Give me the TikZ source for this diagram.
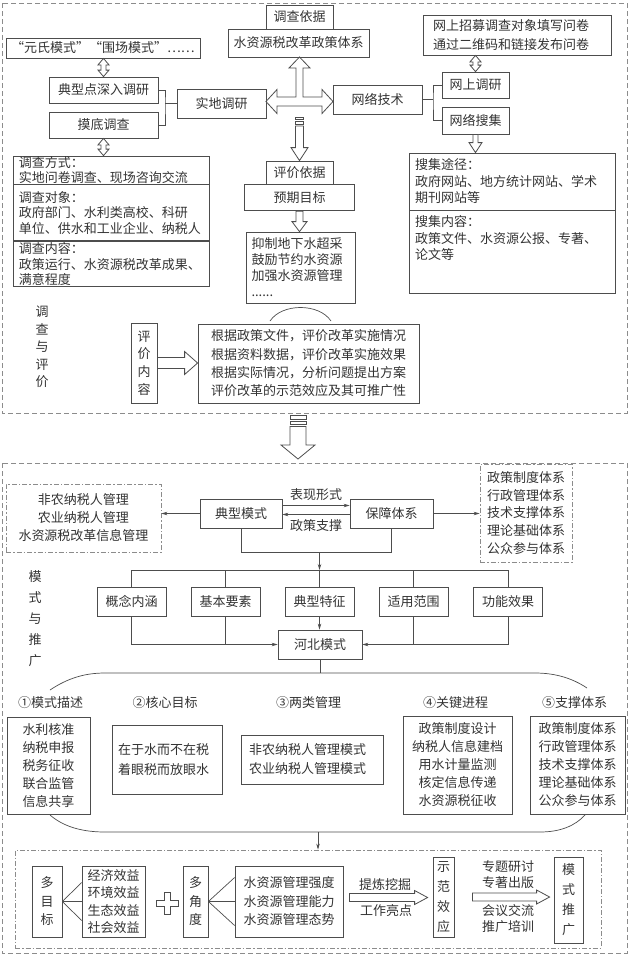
\documentclass[tikz,border=0pt]{standalone}
\usepackage{fontspec}
\setmainfont{Noto Sans CJK SC}
\usetikzlibrary{calc, positioning, arrows.meta}

\definecolor{linegray}{HTML}{4D4D4D}
\definecolor{textgray}{HTML}{333333}
\definecolor{dashgray}{HTML}{8C8C8C}

% hollow block arrows: tail, tip, shaft half width, head half width, head length
\newcommand{\blockdown}[5]{%
  \draw[blockarr] let \p1=#1, \p2=#2 in
    (\x1-#3pt,\y1) -- (\x1-#3pt,\y2+#5pt) -- (\x1-#4pt,\y2+#5pt) -- (\x1,\y2)
    -- (\x1+#4pt,\y2+#5pt) -- (\x1+#3pt,\y2+#5pt) -- (\x1+#3pt,\y1) -- cycle;}
\newcommand{\blockupdown}[5]{%
  \draw[blockarr] let \p1=#1, \p2=#2 in
    (\x1,\y1) -- (\x1+#4pt,\y1-#5pt) -- (\x1+#3pt,\y1-#5pt) -- (\x1+#3pt,\y2+#5pt)
    -- (\x1+#4pt,\y2+#5pt) -- (\x1,\y2) -- (\x1-#4pt,\y2+#5pt) -- (\x1-#3pt,\y2+#5pt)
    -- (\x1-#3pt,\y1-#5pt) -- (\x1-#4pt,\y1-#5pt) -- cycle;}
\newcommand{\blockright}[5]{%
  \draw[blockarr] let \p1=#1, \p2=#2 in
    (\x1,\y1+#3pt) -- (\x2-#5pt,\y1+#3pt) -- (\x2-#5pt,\y1+#4pt) -- (\x2,\y1)
    -- (\x2-#5pt,\y1-#4pt) -- (\x2-#5pt,\y1-#3pt) -- (\x1,\y1-#3pt) -- cycle;}

\begin{document}
\begin{tikzpicture}[x=1pt, y=-1pt,
  font=\fontsize{13}{15.5}\selectfont, text=textgray,
  box/.style={draw=linegray, line width=0.8pt, inner sep=0pt},
  vtext/.style={box, align=center},
  secframe/.style={draw=dashgray, line width=0.8pt, dash pattern=on 5pt off 3pt},
  dashdotbox/.style={draw=dashgray, line width=0.8pt, dash pattern=on 5pt off 2pt on 1.5pt off 2pt},
  link/.style={draw=linegray, line width=0.7pt},
  arr/.style={link, -{Stealth[length=6pt, width=3.5pt]}},
  blockarr/.style={draw=linegray, line width=0.8pt, fill=white}]
\useasboundingbox (0,0) rectangle (631,956);

% Survey and evaluation
\draw[secframe] (2,3) rectangle (627,413);

\node[box, minimum width=67, minimum height=24] (yj) at (299.5,17) {调查依据};
\node[box, minimum width=141, minimum height=28] (zc) at (298.5,43) {水资源税改革政策体系};
\node[box, minimum width=194, minimum height=20] (ys) at (103,48) {“元氏模式”“围场模式”……};
\node[box, minimum width=109, minimum height=26] (dx) at (103.5,90) {典型点深入调研};
\node[box, minimum width=109, minimum height=26] (md) at (103.5,125) {摸底调查};
\node[box, minimum width=89, minimum height=29] (sd) at (221.5,103.5) {实地调研};
\node[box, minimum width=89, minimum height=29] (wl) at (377.5,99.5) {网络技术};
\node[box, minimum width=67, minimum height=26] (ws) at (475.5,85) {网上调研};
\node[box, minimum width=67, minimum height=27] (wj) at (475.5,120.5) {网络搜集};
\node[box, minimum width=188, minimum height=40, align=left, text width=168, inner xsep=10pt,
  font=\fontsize{13}{19}\selectfont] (zm) at (517,35) {网上招募调查对象填写问卷\\通过二维码和链接发布问卷};

% survey details
\node[box, minimum width=196, minimum height=28, align=left, text width=184, inner xsep=6pt] (fs1) at (111,170)
  {调查方式：\\实地问卷调查、现场咨询交流};
\node[box, minimum width=196, minimum height=56, align=left, text width=184, inner xsep=6pt, below=0pt of fs1] (fs2)
  {调查对象：\\政府部门、水利类高校、科研\\单位、供水和工业企业、纳税人};
\node[box, minimum width=196, minimum height=45, align=left, text width=184, inner xsep=6pt, below=0pt of fs2] (fs3)
  {调查内容：\\政策运行、水资源税改革成果、\\满意程度};

% collection details
\node[box, minimum width=206, minimum height=57, align=left, text width=194, inner xsep=6pt,
  font=\fontsize{13}{16.5}\selectfont] (sj1) at (512,181.5) {搜集途径：\\政府网站、地方统计网站、学术\\期刊网站等};
\node[box, minimum width=206, minimum height=83, align=left, text width=194, inner xsep=6pt,
  font=\fontsize{13}{16.5}\selectfont, below=0pt of sj1] (sj2) {搜集内容：\\政策文件、水资源公报、专著、\\论文等\\[13pt]\mbox{}};

% evaluation
\node[box, minimum width=67, minimum height=23] (pj) at (299.5,172.5) {评价依据};
\node[box, minimum width=110, minimum height=26, below=0pt of pj] (yq) {预期目标};
\node[box, minimum width=109, minimum height=71, align=left, text width=99, inner xsep=5pt,
  font=\fontsize{13}{16}\selectfont] (yz) at (301,267.5) {抑制地下水超采\\鼓励节约水资源\\加强水资源管理\\......};
\node[vtext, minimum width=26, minimum height=80, font=\fontsize{13}{17.7}\selectfont] (pn) at (144,363) {评\\价\\内\\容};
\node[box, minimum width=221, minimum height=79, align=center, font=\fontsize{13}{18.3}\selectfont] (gj) at (308.5,363.5)
  {根据政策文件，评价改革实施情况\\根据资料数据，评价改革实施效果\\根据实际情况，分析问题提出方案\\评价改革的示范效应及其可推广性};
\node[align=center, font=\fontsize{13}{17.5}\selectfont] (lb1) at (42,347) {调\\查\\与\\评\\价};
\draw[link] (270,321) .. controls (282,303) and (319,303) .. (331,321);

% brackets
\coordinate (b1) at (165,103.5);
\draw[link] (dx.east) -| (b1) |- (md.east);
\draw[link] (b1) -- (sd.west);
\coordinate (b2) at (433,99.5);
\draw[link] (ws.west) -| (b2) |- (wj.west);
\draw[link] (wl.east) -- (b2);

% block arrows
\blockupdown{(dx.north |- ys.south)}{(dx.north)}{2.5}{5.5}{6.5}
\blockupdown{(md.south)}{(md.south |- fs1.north)}{2.5}{5.5}{6.5}
\blockupdown{(ws.north |- zm.south)}{(ws.north)}{2.5}{5.5}{6.5}
\blockdown{(wj.south)}{(wj.south |- sj1.north)}{2.5}{6.5}{10}
\blockdown{(yq.south)}{(yq.south |- yz.north)}{3.5}{7.5}{10}
\blockright{(pn.east)}{(gj.west)}{5.5}{11.5}{13}
\draw[blockarr] (296,68) -- (289,68) -- (299.5,57) -- (310,68) -- (303,68) -- (303,97) -- (322,97) -- (322,89.5)
  -- (333,101.5) -- (322,113.5) -- (322,106) -- (277,106) -- (277,113.5) -- (266,101.5) -- (277,89.5) -- (277,97)
  -- (296,97) -- cycle;
\draw[blockarr] (295.5,117) rectangle (303.5,119.5);
\draw[blockarr] (295.5,121.5) rectangle (303.5,124);
\coordinate (s1) at (299.5,126);
\blockdown{(s1)}{(pj.north)}{4}{8.5}{13}

% between the two parts
\draw[blockarr] (290,415.5) rectangle (306,419);
\draw[blockarr] (290,421) rectangle (306,424.5);
\coordinate (s2) at (298,426.5);
\coordinate (s3) at (298,459);
\blockdown{(s2)}{(s3)}{8}{17}{14}

% Model and promotion
\draw[secframe] (2,463) rectangle (627,953);

\node[box, dashdotbox, minimum width=155, minimum height=68, align=center, font=\fontsize{13}{18}\selectfont] (fn) at (83.5,518)
  {非农纳税人管理\\农业纳税人管理\\水资源税改革信息管理};
\node[box, minimum width=82, minimum height=29] (dm) at (241,513.5) {典型模式};
\node[box, minimum width=83, minimum height=29] (bz) at (391.5,513.5) {保障体系};
\node[box, dashdotbox, minimum width=92, minimum height=98, align=center, font=\fontsize{13}{17.8}\selectfont] (tx) at (526,513)
  {政策制度体系\\行政管理体系\\技术支撑体系\\理论基础体系\\公众参与体系};
\draw[arr] ($(dm.east)+(0,-8)$) -- ($(bz.west)+(0,-8)$) node[midway, above=1pt] {表现形式};
\draw[arr] ($(bz.west)+(0,1)$) -- ($(dm.east)+(0,1)$) node[midway, below=1pt] {政策支撑};
\draw[arr] (dm.west) -- (dm.west -| fn.east);
\draw[arr] (bz.east) -- (bz.east -| tx.west);

\foreach \n/\x/\t in {gn/131.5/概念内涵, jb/225.5/基本要素, tz/319.5/典型特征, sy/413.5/适用范围, gx/508/功能效果}
  \node[box, minimum width=69, minimum height=29] (\n) at (\x,601.5) {\t};
\draw[link] (dm.south) -- ++(0,24) -| (bz.south);
\draw[arr] (tz.north |- 0,552) -- (tz.north |- 0,570);
\draw[link] (gn.north |- 0,570) -- (gx.north |- 0,570);
\foreach \n in {gn,jb,tz,sy,gx}
  \draw[link] (\n.north) -- (\n.north |- 0,570);

\node[box, minimum width=84, minimum height=29] (hb) at (320,644.5) {河北模式};
\draw[arr] (tz.south) -- (tz.south |- hb.north);
\draw[arr] (gn.south) |- (hb.west);
\draw[link] (jb.south) -- (jb.south |- hb.west);
\draw[arr] (gx.south) |- (hb.east);
\draw[link] (sy.south) -- (sy.south |- hb.east);
\node[align=center, font=\fontsize{13}{21}\selectfont] (lb2) at (35,619) {模\\式\\与\\推\\广};

% five parts of the model
\draw[link] (hb.south) -- (hb.south |- 0,673);
\draw[link] (50,690) .. controls (68,678) and (85,673) .. (105,673) -- (535,673) .. controls (555,673) and (572,678) .. (587,688);
\foreach \n/\x/\t in {h1/50.5/①模式描述, h2/165/②核心目标, h3/308.5/③两类管理, h4/455.5/④关键进程, h5/574.5/⑤支撑体系}
  \node (\n) at (\x,703) {\t};
\node[box, minimum width=83, minimum height=97, align=center, font=\fontsize{13}{18.2}\selectfont] (m1) at (48.5,765.5)
  {水利核准\\纳税申报\\税务征收\\联合监管\\信息共享};
\node[box, minimum width=110, minimum height=69, align=left, text width=98, inner xsep=6pt, font=\fontsize{13}{20}\selectfont] (m2) at (167,759.5)
  {在于水而不在税\\着眼税而放眼水};
\node[box, minimum width=142, minimum height=49, align=left, text width=126, inner xsep=8pt, font=\fontsize{13}{19}\selectfont] (m3) at (312,759.5)
  {非农纳税人管理模式\\农业纳税人管理模式};
\node[box, minimum width=109, minimum height=98, align=center, font=\fontsize{13}{18}\selectfont] (m4) at (457.5,765)
  {政策制度设计\\纳税人信息建档\\用水计量监测\\核定信息传递\\水资源税征收};
\node[box, minimum width=95, minimum height=98, align=center, font=\fontsize{13}{18}\selectfont] (m5) at (577.5,765)
  {政策制度体系\\行政管理体系\\技术支撑体系\\理论基础体系\\公众参与体系};
\draw[link] (50,815) .. controls (65,828) and (85,832) .. (105,832) -- (540,832) .. controls (560,832) and (575,826) .. (585,815);

% effects and promotion
\node[box, dashdotbox, minimum width=586, minimum height=98] (pg) at (308,899) {};
\coordinate (bt) at (318,832);
\draw[arr] (bt) -- (bt |- pg.north);

\node[vtext, minimum width=30, minimum height=71, font=\fontsize{13}{18.5}\selectfont] (dmb) at (47,901.5) {多\\目\\标};
\node[box, minimum width=63, minimum height=71, align=center, font=\fontsize{13}{17.5}\selectfont] (jj) at (113.5,901.5)
  {经济效益\\环境效益\\生态效益\\社会效益};
\foreach \d in {-19,0,19}
  \draw[link] (dmb.east) -- ($(jj.west)+(0,\d)$);
\draw[blockarr] (164.5,892.5) -- (170.5,892.5) -- (170.5,900.5) -- (178.5,900.5) -- (178.5,906.5) -- (170.5,906.5)
  -- (170.5,914.5) -- (164.5,914.5) -- (164.5,906.5) -- (156.5,906.5) -- (156.5,900.5) -- (164.5,900.5) -- cycle;
\node[vtext, minimum width=25, minimum height=71, font=\fontsize{13}{18.5}\selectfont] (djd) at (195.5,901.5) {多\\角\\度};
\node[box, minimum width=108, minimum height=71, align=center, font=\fontsize{13}{18.5}\selectfont] (gl) at (289,901.5)
  {水资源管理强度\\水资源管理能力\\水资源管理态势};
\foreach \d in {-24,0,24}
  \draw[link] (djd.east) -- ($(gl.west)+(0,\d)$);

\node[vtext, minimum width=21, minimum height=80, font=\fontsize{13}{20}\selectfont] (sf) at (443.5,897) {示\\范\\效\\应};
\node[vtext, minimum width=29, minimum height=86, font=\fontsize{13}{20}\selectfont] (mt) at (568.5,900) {模\\式\\推\\广};
\blockright{($(gl.east)+(6,-4)$)}{($(sf.west)+(-5,0)$)}{4}{7}{13}
\blockright{($(sf.east)+(18,0)$)}{($(mt.west)+(-4,0)$)}{4}{7}{13}
\node (tl1) at (385,885) {提炼挖掘};
\node (tl2) at (386,911) {工作亮点};
\node[align=center, font=\fontsize{13}{16}\selectfont] (tl3) at (508,874.5) {专题研讨\\专著出版};
\node[align=center, font=\fontsize{13}{16}\selectfont] (tl4) at (508,918.5) {会议交流\\推广培训};
\end{tikzpicture}
\end{document}
